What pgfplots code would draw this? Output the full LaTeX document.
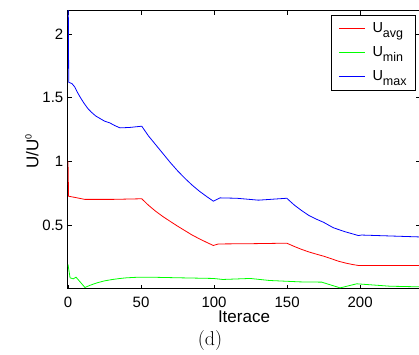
\documentclass[border=0pt]{standalone}
\usepackage{fontspec}
\setmainfont{Liberation Sans}
\newfontfamily\lmr{Latin Modern Roman}
\usepackage{pgfplots}
\pgfplotsset{compat=1.18}

\begin{document}
\begin{tikzpicture}
\begin{axis}[
  at={(0,0)}, anchor=south west,
  scale only axis, width=352pt, height=277.5pt,
  xmin=0, xmax=241, ymin=0, ymax=2.18,
  xtick={0,50,100,150,200}, ytick={0.5,1,1.5,2},
  /pgf/number format/assume math mode=true,
  tick label style={font=\fontsize{15}{15}\selectfont},
  xticklabel style={inner sep=0pt, anchor=north, yshift=-8pt},
  yticklabel style={inner sep=0pt, anchor=east, xshift=-4.5pt},
  major tick length=4pt,
  tick style={black, line width=0.6pt},
  axis line style={black, line width=1pt},
  every axis x label/.style={at={(axis description cs:0.5,-0.1232)}, anchor=base},
  every axis y label/.style={at={(axis description cs:-0.0844,0.494)}, anchor=base, rotate=90},
  xlabel={Iterace},
  ylabel={U/U\raisebox{6.6pt}{\fontsize{9}{9}\selectfont 0}},
  label style={font=\fontsize{17}{17}\selectfont},
  legend style={at={(rel axis cs:0.9886,0.9856)}, anchor=north east,
    draw=black, line width=0.8pt, fill=white,
    inner xsep=7pt, inner ysep=3pt, column sep=5pt, row sep=3pt,
    font=\fontsize{14.5}{14.5}\selectfont,
    nodes={inner sep=2pt, text height=12pt, text depth=5pt},
    cells={anchor=west}},
  legend image code/.code={\draw[#1] (0pt,0pt) -- (26pt,0pt);},
]
\addplot[red, line width=0.8pt] coordinates {
(0,1.0) (0.4,0.725) (5,0.715) (11.6,0.70) (30,0.70) (50.5,0.705)
(55,0.655) (60,0.607) (65,0.565) (70,0.527) (75,0.49) (80,0.455)
(85,0.42) (90,0.39) (95,0.362) (99.5,0.338) (103,0.35)
(125,0.352) (149.8,0.356) (152,0.345) (155,0.33) (160,0.307)
(165,0.287) (170,0.27) (175,0.254) (180,0.235) (185,0.215)
(190,0.2) (195,0.188) (198.8,0.181) (241,0.181)
};
\addlegendentry{U\raisebox{-5.5pt}{\fontsize{12.5}{12.5}\selectfont avg}}
\addplot[green, line width=0.8pt] coordinates {
(0,0.19) (1.4,0.084) (3.6,0.076) (5.5,0.089) (11.6,0.008) (15,0.025)
(20,0.045) (25,0.06) (30,0.07) (35,0.078) (40,0.084) (45,0.087)
(49.3,0.089) (60,0.088) (76.7,0.084) (99.5,0.079) (106,0.071)
(124.7,0.079) (138,0.063) (159,0.052) (173.7,0.05) (186.3,0.005)
(197.7,0.037) (220.5,0.018) (241,0.013)
};
\addlegendentry{U\raisebox{-5.5pt}{\fontsize{12.5}{12.5}\selectfont min}}
\addplot[blue, line width=0.8pt] coordinates {
(0,2.6) (0.5,1.62) (2.7,1.61) (4.5,1.585) (6.5,1.54) (8.5,1.50)
(11,1.455) (13.5,1.415) (16,1.385) (19,1.355) (22,1.335) (25,1.315)
(28.8,1.30) (32,1.28) (35.6,1.262) (42,1.265) (50.5,1.275)
(55,1.20) (60,1.13) (65,1.06) (70,0.99) (75,0.925) (80,0.866)
(85,0.812) (90,0.764) (95,0.722) (99.5,0.686)
(104,0.712) (115.5,0.709) (130.4,0.694) (149.8,0.709) (152,0.686)
(155,0.655) (160,0.612) (165,0.573) (170,0.545) (175,0.52)
(181.7,0.477) (190,0.445) (198.8,0.416) (201,0.42) (241,0.405)
};
\addlegendentry{U\raisebox{-5.5pt}{\fontsize{12.5}{12.5}\selectfont max}}
\end{axis}
\node[font=\lmr\fontsize{20}{20}\selectfont, anchor=base] at (142pt,-56.5pt) {(d)};
\pgfresetboundingbox
\path[use as bounding box] (-68pt,-65.5pt) rectangle (351pt,288.5pt);
\end{tikzpicture}
\end{document}
